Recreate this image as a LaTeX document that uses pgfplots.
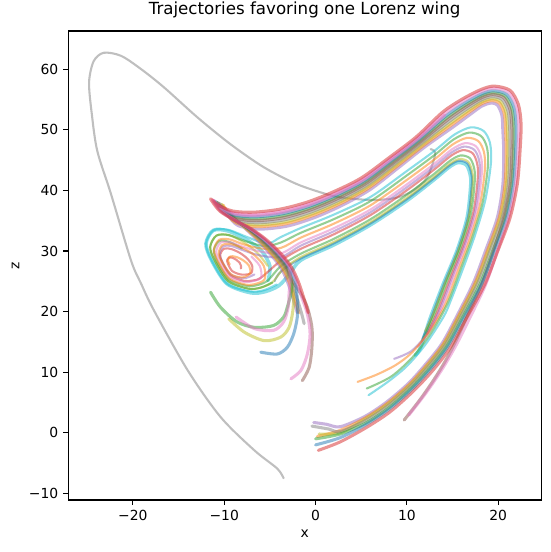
\documentclass[border=0pt]{standalone}
\usepackage{fontspec}
\setmainfont{DejaVu Sans}
\usepackage{pgfplots}
\pgfplotsset{compat=1.18}
\definecolor{tblue}{HTML}{1F77B4}
\definecolor{torange}{HTML}{FF7F0E}
\definecolor{tgreen}{HTML}{2CA02C}
\definecolor{tred}{HTML}{D62728}
\definecolor{tpurple}{HTML}{9467BD}
\definecolor{tbrown}{HTML}{8C564B}
\definecolor{tpink}{HTML}{E377C2}
\definecolor{tgray}{HTML}{7F7F7F}
\definecolor{tolive}{HTML}{BCBD22}
\definecolor{tcyan}{HTML}{17BECF}
\begin{document}
\begin{tikzpicture}
\begin{axis}[
  scale only axis, width=340.6pt, height=337.7pt,
  at={(0,0)}, anchor=south west,
  xmin=-27.1, xmax=24.7, ymin=-11.1, ymax=66.3,
  xtick={-20,-10,0,10,20}, xticklabels={−20,−10,0,10,20},
  ytick={-10,0,10,20,30,40,50,60}, yticklabels={−10,0,10,20,30,40,50,60},
  tick align=outside, tick pos=left, major tick length=3.5pt,
  tick style={black, line width=0.8pt},
  axis line style={line width=0.8pt},
  title={Trajectories favoring one Lorenz wing},
  title style={font=\fontsize{12}{14}\selectfont},
  xlabel={x}, ylabel={z},
  tick label style={font=\fontsize{10}{12}\selectfont},
  label style={font=\fontsize{10}{12}\selectfont},
  every axis plot/.append style={no markers, line width=1.5pt, draw opacity=0.5, smooth, tension=0.5, line join=round, line cap=round},
  band/.style={line width=2.2pt},
]
% long gray trajectory
\addplot[tgray] coordinates {(-3.5,-7.5) (-4.2,-5.9) (-6.7,-2.9) (-10.4,2.6) (-14.0,10.3) (-17.7,20.2) (-19.1,24.6) (-20.2,28.4) (-22.4,39.4) (-23.9,46.5) (-24.5,52.6) (-24.8,57.8) (-24.3,61.3) (-23.2,62.7) (-21.3,62.2) (-19.1,60.0) (-16.6,57.0) (-12.9,52.0) (-9.3,47.6) (-5.65,43.8) (-2.0,41.0) (1.6,39.2) (3.5,38.7) (6.4,38.4) (8.9,38.8) (10.7,40.0) (12.2,42.1) (13.1,46.0) (12.6,46.8)};
% inner arcs
\addplot[tcyan, line width=2.6pt] coordinates {(-5.2,25.1) (-5.0,27.5) (-5.9,30.0) (-7.6,31.9) (-9.6,33.3) (-11.2,33.4) (-12.0,31.2) (-11.4,28.5) (-9.7,24.6) (-7.1,23.1) (-5.5,23.3) (-4.0,24.3) (-2.8,26.3) (-1.6,28.5) (2.0,31.0) (6.0,34.3) (10.0,38.3) (13.0,41.8) (14.6,43.8) (15.6,44.6) (16.5,44.2) (16.9,42.8) (17.0,41.0) (16.6,35.5) (15.5,30.1) (14.0,24.6) (12.6,19.1) (11.5,14.1) (10.9,12.8)};
\addplot[tblue] coordinates {(-4.5,25.0) (-3.8,26.6) (-1.6,28.77) (2.0,31.25) (6.0,34.53) (10.0,38.55) (13.0,42.04) (14.63,44.07) (15.67,44.89) (16.6,44.48) (17.01,43.05) (17.11,41.18) (16.7,35.65) (15.6,30.24) (14.11,24.74) (12.71,19.24) (11.7,15.5)};
\addplot[tolive] coordinates {(-5.23,27.53) (-6.35,29.63) (-7.78,31.36) (-9.5,32.62) (-10.86,32.53) (-11.54,30.66) (-11.03,28.37) (-9.58,25.05) (-7.37,23.78) (-6.01,23.95) (-4.74,24.8) (-3.6,26.9) (-1.6,29.03) (2.0,31.5) (6.0,34.76) (10.0,38.79) (13.0,42.27) (14.66,44.34) (15.74,45.18) (16.69,44.76) (17.12,43.3) (17.22,41.35) (16.8,35.8) (15.7,30.37) (14.22,24.87) (12.82,19.37) (12.0,16.8)};
\addplot[tgreen] coordinates {(-8.06,30.42) (-9.36,31.44) (-10.51,31.66) (-11.13,30.19) (-10.78,28.28) (-9.5,25.35) (-7.55,24.23) (-6.35,24.38) (-5.23,25.13) (-3.8,27.5) (-1.6,29.56) (2.0,32.0) (6.0,35.22) (10.0,39.28) (13.0,42.74) (14.72,44.88) (15.88,45.76) (16.88,45.32) (17.34,43.8) (17.44,41.7) (17.0,36.1) (15.9,30.64) (14.44,25.14) (13.04,19.64) (12.1,16.5) (11.6,15.0)};
\addplot[tred] coordinates {(-8.17,27.11) (-8.17,27.59) (-8.32,28.06) (-8.63,28.49) (-9.05,28.84) (-9.43,28.93) (-9.68,28.5) (-9.58,27.84) (-9.14,26.7) (-8.32,26.16) (-7.71,26.1) (-7.04,26.35) (-6.94,27.56) (-7.47,28.73) (-8.28,29.67) (-9.22,30.31) (-10.0,30.38) (-10.45,29.4) (-10.2,28.07) (-9.33,25.98) (-7.89,25.08) (-6.93,25.11) (-5.96,25.62) (-3.8,28.4) (-1.6,30.36) (2.0,32.75) (6.0,35.91) (10.0,40.02) (13.0,43.45) (14.81,45.69) (16.09,46.63) (17.17,46.16) (17.67,44.55) (17.77,42.23) (17.3,36.55) (16.2,31.05) (14.77,25.55) (13.37,20.05) (12.6,17.5) (12.2,16.3)};
\addplot[tpurple] coordinates {(-6.7,26.12) (-7.37,25.67) (-8.05,25.49) (-9.29,26.13) (-10.15,28.05) (-10.51,29.47) (-10.14,30.73) (-9.29,30.85) (-8.12,30.23) (-6.2,29.3) (-3.8,29.0) (-1.6,30.89) (2.0,33.25) (6.0,36.37) (10.0,40.51) (13.0,43.92) (14.87,46.23) (16.23,47.21) (17.36,46.72) (17.89,45.05) (17.99,42.58) (17.5,36.85) (16.4,31.32) (14.99,25.82) (13.59,20.32) (12.3,16.5) (10.5,13.5) (8.6,12.2)};
\addplot[tpink] coordinates {(-7.03,29.09) (-6.11,27.54) (-5.96,25.62) (-6.86,25.02) (-7.82,24.9) (-9.4,25.74) (-10.48,28.17) (-10.88,29.9) (-10.4,31.37) (-9.36,31.44) (-7.98,30.7) (-6.0,29.9) (-3.8,29.6) (-1.6,31.42) (2.0,33.75) (6.0,36.83) (10.0,41.0) (13.0,44.39) (14.93,46.77) (16.37,47.79) (17.55,47.28) (18.11,45.55) (18.21,42.93) (17.7,37.15) (16.6,31.59) (15.21,26.09) (13.81,20.59) (12.5,16.8) (11.2,14.2)};
\addplot[torange] coordinates {(-9.4,27.78) (-9.58,28.39) (-9.45,28.99) (-9.08,29.13) (-8.51,28.92) (-7.88,28.41) (-7.28,27.57) (-7.14,26.41) (-7.54,25.88) (-8.11,25.62) (-9.28,26.16) (-10.2,28.07) (-10.61,29.58) (-10.23,30.96) (-9.32,31.14) (-8.03,30.51) (-6.72,29.33) (-5.67,27.53) (-5.57,25.36) (-6.52,24.59) (-7.64,24.45) (-9.47,25.47) (-10.7,28.25) (-11.13,30.19) (-10.58,31.83) (-9.41,31.91) (-7.86,31.08) (-5.9,30.4) (-3.8,30.5) (-1.6,32.21) (2.0,34.5) (6.0,37.52) (10.0,41.73) (13.0,45.09) (15.02,47.58) (16.58,48.66) (17.83,48.12) (18.44,46.3) (18.54,43.45) (18.0,37.6) (16.9,31.99) (15.54,26.49) (14.14,20.99) (12.5,16.8) (10.6,13.3) (8.8,11.2) (6.7,9.6) (4.6,8.4)};
\addplot[tgreen] coordinates {(-4.74,24.8) (-6.01,23.95) (-7.37,23.78) (-9.58,25.05) (-11.03,28.37) (-11.54,30.66) (-10.86,32.53) (-9.5,32.62) (-7.7,31.64) (-5.6,30.8) (-3.8,31.4) (-1.6,33.01) (2.0,35.25) (6.0,38.21) (10.0,42.47) (13.0,45.8) (15.11,48.39) (16.79,49.53) (18.12,48.96) (18.77,47.05) (18.87,43.98) (18.3,38.05) (17.2,32.4) (15.87,26.9) (14.47,21.4) (12.7,16.6) (10.7,12.6) (8.3,9.3) (5.6,7.3)};
\addplot[tcyan] coordinates {(-4.25,24.47) (-5.67,23.52) (-7.19,23.33) (-9.7,24.6) (-11.4,28.5) (-12.0,31.2) (-11.2,33.4) (-9.6,33.5) (-7.5,32.3) (-5.3,31.2) (-3.8,32.3) (-1.6,33.8) (2.0,36.0) (6.0,38.9) (10.0,43.2) (13.0,46.5) (15.2,49.2) (17.0,50.4) (18.4,49.8) (19.1,47.8) (19.2,44.5) (18.6,38.5) (17.5,32.8) (16.2,27.3) (14.8,21.8) (14.0,19.1) (12.0,14.5) (10.0,11.0) (8.0,8.5) (5.8,6.2)};
% outer band
\addplot[tpurple, band] coordinates {(-0.2,1.7) (1.2,1.4) (2.7,1.0) (5.4,2.7) (7.8,5.1) (10.2,8.2) (12.1,11.4) (13.85,14.75) (15.5,19.35) (17.3,24.8) (18.65,30.2) (19.9,35.5) (20.5,40.85) (20.6,46.2) (20.5,50.0) (20.4,52.4) (19.9,54.1) (19.2,54.4) (18.2,53.9) (16.9,52.5) (15.1,50.5) (12.0,47.2) (9.0,43.65) (6.0,40.15) (3.0,37.6) (-0.05,35.55) (-3.1,34.1) (-6.2,33.6) (-8.5,34.2) (-9.6,35.9) (-10.2,37.3) (-9.5,36.4) (-8.7,35.1) (-7.7,33.7) (-6.5,32.0) (-5.2,29.9) (-3.9,27.5) (-3.1,25.0) (-2.5,22.3) (-2.0,19.8)};
\addplot[torange, band] coordinates {(0.2,-0.6) (2.7,0.4) (5.43,2.43) (7.86,4.86) (10.29,8.02) (12.22,11.25) (13.99,14.65) (15.65,19.28) (17.48,24.74) (18.85,30.17) (20.11,35.5) (20.74,40.9) (20.87,46.29) (20.8,50.15) (20.67,52.67) (20.11,54.46) (19.26,54.82) (18.2,54.32) (16.78,52.89) (14.92,50.86) (11.85,47.44) (8.85,43.91) (5.85,40.44) (2.85,37.93) (-0.19,35.93) (-3.22,34.52) (-6.29,34.02) (-8.59,34.56) (-9.68,36.07) (-10.14,37.58) (-9.65,36.43) (-8.73,35.1) (-7.61,33.7) (-6.35,32.0) (-5.02,29.9) (-3.72,27.5) (-2.92,25.0) (-2.32,22.3) (-1.82,19.8)};
\addplot[tolive, band] coordinates {(0.4,-0.2) (2.7,0.0) (5.45,2.25) (7.9,4.7) (10.35,7.9) (12.3,11.15) (14.08,14.58) (15.75,19.23) (17.6,24.7) (18.98,30.15) (20.25,35.5) (20.9,40.93) (21.05,46.35) (21.0,50.25) (20.85,52.85) (20.25,54.7) (19.3,55.1) (18.2,54.6) (16.7,53.15) (14.8,51.1) (11.75,47.6) (8.75,44.08) (5.75,40.63) (2.75,38.15) (-0.28,36.18) (-3.3,34.8) (-6.35,34.3) (-8.65,34.8) (-9.8,36.25) (-10.3,37.7) (-9.75,36.45) (-8.75,35.1) (-7.55,33.7) (-6.25,32.0) (-4.9,29.9) (-3.6,27.5) (-2.7,25.0) (-2.4,23.0) (-2.5,20.0) (-2.9,17.4) (-3.8,15.8) (-5.6,15.2) (-7.8,16.6) (-9.5,18.8)};
\addplot[tgray, band] coordinates {(-0.4,1.1) (1.5,0.6) (2.7,0.2) (5.48,2.03) (7.95,4.5) (10.43,7.75) (12.4,11.03) (14.19,14.49) (15.88,19.16) (17.75,24.65) (19.14,30.13) (20.43,35.5) (21.1,40.96) (21.28,46.43) (21.25,50.38) (21.08,53.08) (20.43,55.0) (19.35,55.45) (18.2,54.95) (16.6,53.48) (14.65,51.4) (11.63,47.8) (8.63,44.29) (5.63,40.86) (2.63,38.43) (-0.39,36.49) (-3.4,35.15) (-6.43,34.65) (-8.73,35.1) (-9.95,36.48) (-10.5,37.85) (-9.88,36.48) (-8.78,35.1) (-7.48,33.7) (-6.13,32.0) (-4.75,29.9) (-3.45,27.5) (-2.65,25.0) (-2.05,22.3) (-1.55,19.8) (-1.25,18.0)};
\addplot[tgreen, band] coordinates {(0.0,-1.0) (2.7,-0.2) (5.52,1.62) (8.04,4.14) (10.56,7.48) (12.58,10.8) (14.39,14.33) (16.1,19.05) (18.02,24.56) (19.43,30.08) (20.74,35.5) (21.46,41.03) (21.68,46.56) (21.7,50.6) (21.48,53.48) (20.74,55.54) (19.44,56.08) (18.2,55.58) (16.42,54.06) (14.38,51.94) (11.4,48.16) (8.4,44.67) (5.4,41.29) (2.4,38.92) (-0.59,37.05) (-3.58,35.78) (-6.56,35.28) (-8.86,35.64) (-10.22,36.88) (-10.86,38.12) (-10.1,36.52) (-8.82,35.1) (-7.34,33.7) (-5.9,32.0) (-4.48,29.9) (-3.18,27.5) (-2.6,25.0) (-2.7,23.0) (-3.1,20.7) (-3.5,19.1) (-4.6,17.7) (-6.7,17.4) (-8.6,18.3) (-10.4,20.7) (-11.5,23.2)};
\addplot[tbrown, band] coordinates {(9.7,2.1) (11.6,5.8) (13.4,9.8) (15.0,14.0) (16.5,18.9) (18.2,24.5) (19.5,30.1) (20.6,35.5) (21.3,41.0) (21.5,46.5) (21.5,50.5) (21.3,53.3) (20.6,55.3) (19.4,55.8) (18.2,55.3) (16.5,53.8) (14.5,51.7) (11.5,48.0) (8.5,44.5) (5.5,41.1) (2.5,38.7) (-0.5,36.8) (-3.5,35.5) (-6.5,35.0) (-8.8,35.4) (-10.1,36.7) (-10.7,38.0) (-10.0,36.5) (-8.8,35.1) (-7.4,33.7) (-6.0,32.0) (-4.6,29.9) (-3.3,27.5) (-2.5,25.0) (-1.6,22.9) (-0.9,20.7) (-0.4,17.4) (-0.4,14.1) (-0.7,10.8) (-1.45,8.6)};
\addplot[tblue, band] coordinates {(0.0,-2.0) (2.7,-0.8) (5.55,1.4) (8.09,3.94) (10.64,7.33) (12.68,10.68) (14.5,14.24) (16.23,18.99) (18.17,24.51) (19.59,30.06) (20.92,35.5) (21.66,41.07) (21.91,46.64) (21.95,50.73) (21.71,53.71) (20.92,55.84) (19.49,56.43) (18.2,55.93) (16.32,54.39) (14.23,52.24) (11.28,48.36) (8.28,44.88) (5.28,41.53) (2.28,39.2) (-0.7,37.36) (-3.68,36.13) (-6.64,35.63) (-8.94,35.94) (-10.37,37.11) (-11.06,38.27) (-10.23,36.55) (-8.85,35.1) (-7.27,33.7) (-5.78,32.0) (-4.33,29.9) (-3.03,27.5) (-2.23,25.0) (-2.0,21.8) (-2.0,19.1) (-2.4,16.3) (-3.1,14.1) (-4.2,13.0) (-6.0,13.3)};
\addplot[tpink, band] coordinates {(14.14,52.42) (11.2,48.48) (8.2,45.01) (5.2,41.67) (2.2,39.36) (-0.77,37.55) (-3.74,36.34) (-6.68,35.84) (-8.98,36.12) (-10.46,37.24) (-11.18,38.36) (-10.3,36.56) (-8.86,35.1) (-7.22,33.7) (-5.7,32.0) (-4.24,29.9) (-2.94,27.5) (-2.8,25.0) (-2.9,23.0) (-3.0,20.7) (-3.5,18.3) (-4.6,16.9) (-6.7,17.2) (-8.7,19.1)};
\addplot[tpink, band] coordinates {(10.2,2.9) (12.1,6.6) (13.9,10.6) (15.4,14.5) (16.9,19.0) (18.6,24.4) (19.9,30.0) (21.13,35.5) (21.9,41.11) (22.18,46.73) (22.25,50.88) (21.98,53.98) (21.13,56.2) (19.55,56.85) (18.2,56.35) (16.2,54.78) (14.05,52.6) (11.13,48.6) (8.13,45.14) (5.13,41.81) (2.13,39.53) (-0.84,37.74) (-3.8,36.55) (-6.73,36.05) (-9.03,36.3) (-10.55,37.38) (-11.3,38.45) (-10.38,36.58) (-8.88,35.1) (-7.18,33.7) (-5.63,32.0) (-4.15,29.9) (-2.85,27.5) (-2.05,25.0) (-1.5,22.3) (-0.9,19.6) (-0.6,16.3) (-0.9,13.0) (-1.6,10.3) (-2.7,8.9)};
\addplot[tred, band] coordinates {(0.3,-2.9) (2.7,-1.5) (5.6,0.9) (8.2,3.5) (10.8,7.0) (12.9,10.4) (14.75,14.05) (16.5,18.85) (18.5,24.4) (19.95,30.0) (21.3,35.5) (22.1,41.15) (22.4,46.8) (22.5,51.0) (22.2,54.2) (21.3,56.5) (19.6,57.2) (18.2,56.7) (16.1,55.1) (13.9,52.9) (11.0,48.8) (8.0,45.35) (5.0,42.05) (2.0,39.8) (-0.95,38.05) (-3.9,36.9) (-6.8,36.4) (-9.1,36.6) (-10.7,37.6) (-11.5,38.6) (-10.5,36.6) (-8.9,35.1) (-7.1,33.7) (-5.5,32.0) (-4.0,29.9) (-2.7,27.5) (-1.9,25.0) (-1.3,22.3) (-0.8,19.8)};
\end{axis}
\pgfresetboundingbox
\path[use as bounding box] (-49pt,-37.4pt) rectangle (347.1pt,360pt);
\end{tikzpicture}
\end{document}
